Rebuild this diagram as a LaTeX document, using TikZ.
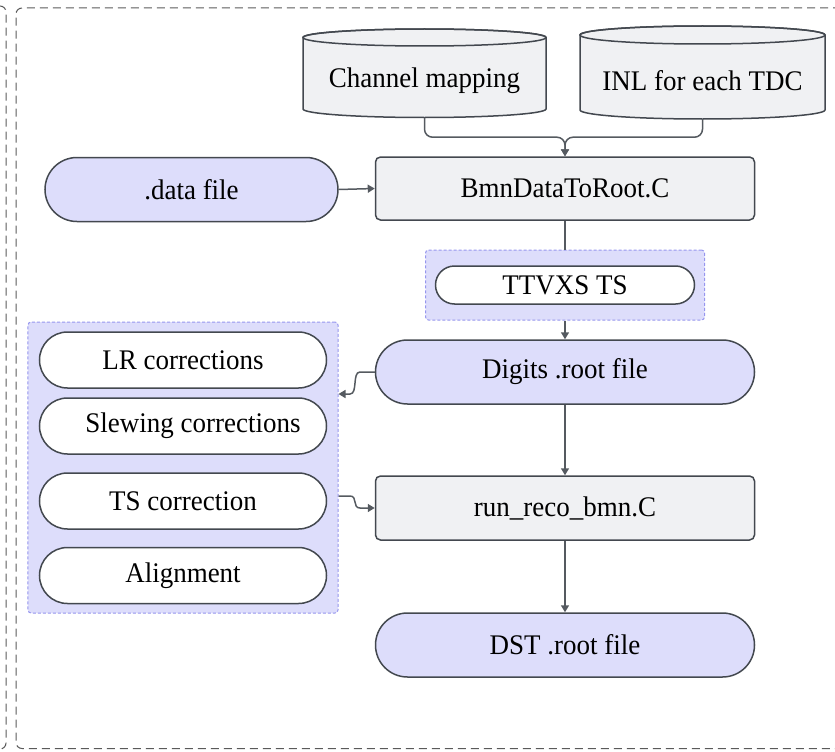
\documentclass[tikz,border=0pt]{standalone}
\usepackage{fontspec}
\setmainfont{Liberation Serif}[FakeStretch=0.95]
\usetikzlibrary{arrows.meta}
\definecolor{lav}{RGB}{221,221,251}
\definecolor{boxgray}{RGB}{240,241,243}
\definecolor{edgecol}{RGB}{67,72,79}
\definecolor{conncol}{RGB}{85,90,96}
\definecolor{grpedge}{RGB}{150,150,238}
\definecolor{framecol}{RGB}{90,90,90}
\begin{document}
\begin{tikzpicture}[x=1bp,y=-1bp,
  font=\fontsize{28.4bp}{33bp}\selectfont,
  base/.style={draw=edgecol, line width=1.5bp, inner sep=0pt, align=center},
  stadium/.style={base, fill=lav, rounded corners=32bp, minimum width=379bp, minimum height=64bp},
  pillw/.style={base, fill=white, rounded corners=28bp, minimum width=287bp, minimum height=56bp},
  procbox/.style={base, fill=boxgray, rounded corners=5bp, minimum width=379bp, minimum height=64bp},
  grp/.style={draw=grpedge, fill=lav, dash pattern=on 3bp off 2bp, line width=1bp, rounded corners=3bp, inner sep=0pt},
  frame/.style={draw=framecol, dash pattern=on 8bp off 5bp, line width=1bp, rounded corners=6bp},
  conn/.style={draw=conncol, line width=1.5bp},
  arr/.style={conn, -{Triangle[length=7bp,width=8bp]}},
  cyl/.style={draw=edgecol, fill=boxgray, line width=1.5bp},
  cyltext/.style={inner sep=0pt, minimum width=243bp}
]
\clip (0,0) rectangle (835,752);
% outer frames
\draw[frame] (880,8) -- (16,8) -- (16,748.5) -- (880,748.5);
\draw[frame] (-40,6) -- (6,6) -- (6,749) -- (-40,749);

% groups
\node[grp, minimum width=279bp, minimum height=70bp] (grpT) at (565,285) {};
\node[grp, minimum width=310bp, minimum height=291bp] (grpL) at (183,467.5) {};

% cylinders
\filldraw[cyl] (303,37.5) -- (303,109) arc[start angle=180,end angle=0,x radius=121.5,y radius=8.5]
  -- (546,37.5) arc[start angle=0,end angle=-180,x radius=121.5,y radius=8.5] -- cycle;
\draw[cyl, fill=none] (424.5,37.5) ellipse[x radius=121.5, y radius=8.5];
\node[cyltext, minimum height=73bp] (cyl1) at (424.5,81) {Channel mapping};

\filldraw[cyl] (580,35) -- (580,110) arc[start angle=180,end angle=0,x radius=122.5,y radius=9]
  -- (825,35) arc[start angle=0,end angle=-180,x radius=122.5,y radius=9] -- cycle;
\draw[cyl, fill=none] (702.5,35) ellipse[x radius=122.5, y radius=9];
\node[cyltext, minimum height=76bp] (cyl2) at (702.5,81) {INL for each TDC};

% main nodes
\node[stadium, minimum width=293bp] (data) at (191.5,189.5) {.data file};
\node[procbox, minimum height=63bp] (bmn) at (565,188.5) {BmnDataToRoot.C};
\node[base, fill=white, rounded corners=19bp, minimum width=259bp, minimum height=38bp] (ttvxs) at (565,285) {TTVXS TS};
\node[stadium] (digits) at (565,372) {Digits .root file};
\node[procbox] (reco) at (565,508) {run\_reco\_bmn.C};
\node[stadium] (dst) at (565,645) {DST .root file};

\node[pillw] (lr) at (183,360) {LR corrections};
\node[pillw] (slew) at (183,426) {\hspace*{20bp}Slewing corrections};
\node[pillw] (tsc) at (183,501) {TS correction};
\node[pillw] (align) at (183,575.5) {Alignment};

% connectors
\draw[arr, rounded corners=8bp] (cyl1.south) -- ++(0,19.5) -| (bmn.north);
\draw[arr, rounded corners=8bp] (cyl2.south) -- ++(0,18) -| (bmn.north);
\draw[arr] (data.east) -- (bmn.west);
\draw[conn] (bmn.south) -- (grpT.north);
\draw[arr] (grpT.south) -- (digits.north);
\draw[arr] (digits.west) -- (360,372) .. controls (352,372) and (358,394) .. (350,394) -- (grpL.east |- 0,394);
\draw[arr] (grpL.east |- 0,496) -- (350,496) .. controls (358,496) and (352,508) .. (360,508) -- (reco.west);
\draw[arr] (digits.south) -- (reco.north);
\draw[arr] (reco.south) -- (dst.north);
\end{tikzpicture}
\end{document}
